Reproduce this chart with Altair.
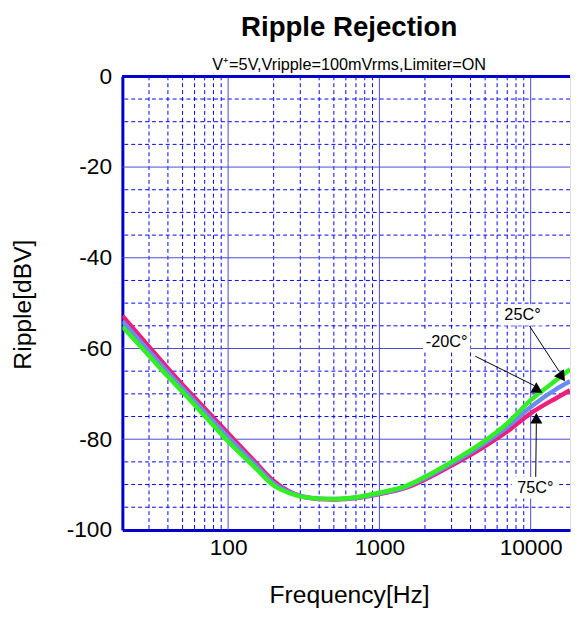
import altair as alt
import pandas as pd

# ---- data ----
freq = [20, 30, 40, 50, 70, 100, 150, 200, 250, 300, 400, 500, 700,
        1000, 1500, 2000, 3000, 5000, 7000, 10000, 15000, 18200]
ripple_m20 = [-55.2, -61.6, -66.2, -69.6, -74.9, -80.5, -86.2, -90.2, -91.8, -92.6, -93.1, -93.2, -92.8,
              -91.8, -90.3, -88.3, -85.0, -80.3, -76.5, -71.4, -66.8, -64.6]
ripple_25 = [-54.0, -60.6, -65.3, -68.8, -74.0, -79.5, -85.5, -89.7, -91.6, -92.5, -93.1, -93.2, -92.9,
             -92.0, -90.5, -88.6, -85.4, -80.8, -77.3, -72.9, -68.8, -67.2]
ripple_75 = [-52.8, -59.6, -64.4, -68.0, -73.2, -78.7, -84.9, -89.2, -91.4, -92.5, -93.2, -93.3, -93.0,
             -92.1, -90.7, -88.9, -85.8, -81.5, -78.3, -74.3, -70.8, -69.2]

series_names = ["75C", "25C", "-20C"]
series_colors = ["#ee1f7a", "#6a8cf0", "#33ee22"]

ann_text = ["25C°", "-20C°", "75C°"]
ann_freq = [8830, 2783, 10730]
ann_val = [-52.6, -58.5, -90.7]
arr_from_freq = [9810, 4300, 10800]
arr_from_val = [-55.0, -61.7, -88.3]
arr_to_freq = [15400, 10600, 10900]
arr_to_val = [-65.0, -68.2, -76.5]
head_freq = [16100, 10900, 10900]
head_val = [-66.3, -68.6, -75.4]
head_angle = [145, 0, 0]

x_label_ticks = [100, 1000, 10000]
x_minor = [30, 40, 50, 60, 70, 80, 90, 200, 300, 400, 500, 600, 700, 800, 900,
           2000, 3000, 4000, 5000, 6000, 7000, 8000, 9000]
y_label_ticks = [-100, -80, -60, -40, -20, 0]
y_major = [-80, -60, -40, -20]
y_minor = [-95, -90, -85, -75, -70, -65, -55, -50, -45, -35, -30, -25, -15, -10, -5]

# ---- tables ----
rows = []
for name, vals in zip(["-20C", "25C", "75C"], [ripple_m20, ripple_25, ripple_75]):
    for f, v in zip(freq, vals):
        rows.append({"f": f, "v": v, "series": name})
df = pd.DataFrame(rows)
ann = pd.DataFrame({"text": ann_text, "f": ann_freq, "v": ann_val,
                    "f1": arr_from_freq, "v1": arr_from_val,
                    "f2": arr_to_freq, "v2": arr_to_val,
                    "hf": head_freq, "hv": head_val, "ang": head_angle})

FONT = "Liberation Sans"
W, H = 454, 460
BLUE = "#0000cc"
MAJ = "#4848d8"
MIN = "#0000ff"

xscale = alt.Scale(type="log", domain=[20, 18200], nice=False)
yscale = alt.Scale(domain=[-100, 0], nice=False)

xaxis = alt.Axis(
    values=x_label_ticks, title="Frequency[Hz]", titleFont=FONT, titleFontSize=25,
    titleFontWeight="normal", titleColor="black", titleBaseline="alphabetic",
    titleY=74, titleX=230, labelExpr="'' + datum.value",
    labelFont=FONT, labelFontSize=23, labelColor="black", labelPadding=7,
    labelOverlap=False, labelFlush=False, ticks=False, grid=False,
    domainColor=BLUE, domainWidth=3,
)
yaxis = alt.Axis(
    values=y_label_ticks, title="Ripple[dBV]", titleFont=FONT, titleFontSize=25,
    titleFontWeight="normal", titleColor="black", titleAngle=-90,
    titleBaseline="alphabetic", titleAlign="center", titleX=-93, titleY=231,
    labelExpr="'' + datum.value",
    labelFont=FONT, labelFontSize=23, labelColor="black", labelPadding=11,
    labelOverlap=False, labelFlush=False, ticks=False, grid=False,
    domainColor=BLUE, domainWidth=3,
)


def XX(field):
    return alt.X(field, scale=xscale, axis=xaxis)


def YY(field):
    return alt.Y(field, scale=yscale, axis=yaxis)


gx_minor = alt.Chart(pd.DataFrame({"f": x_minor})).mark_rule(
    color=MIN, strokeWidth=1, strokeDash=[4, 3]).encode(x=XX("f:Q"))
gx_major = alt.Chart(pd.DataFrame({"f": x_label_ticks})).mark_rule(
    color=MAJ, strokeWidth=1).encode(x=XX("f:Q"))
gy_minor = alt.Chart(pd.DataFrame({"v": y_minor})).mark_rule(
    color=MIN, strokeWidth=1, strokeDash=[4, 3]).encode(y=YY("v:Q"))
gy_major = alt.Chart(pd.DataFrame({"v": y_major})).mark_rule(
    color=MAJ, strokeWidth=1).encode(y=YY("v:Q"))

base = alt.Chart(df)
line_layers = []
for name, col in zip(series_names, series_colors):
    line_layers.append(
        base.transform_filter(alt.datum.series == name)
        .mark_line(color=col, strokeWidth=4.5, clip=True, interpolate="monotone")
        .encode(x=XX("f:Q"), y=YY("v:Q"))
    )

abase = alt.Chart(ann)
arrows = abase.mark_rule(color="black", strokeWidth=1).encode(
    x=XX("f1:Q"), y=YY("v1:Q"), x2="f2:Q", y2="v2:Q")
heads = abase.mark_point(shape="triangle-up", filled=True, color="black", opacity=1,
                         size=150).encode(
    x=XX("hf:Q"), y=YY("hv:Q"), angle=alt.Angle("ang:Q", scale=None))
boxes = abase.mark_point(shape="M-1,-0.45L1,-0.45L1,0.45L-1,0.45Z", filled=True,
                         color="white", opacity=1, size=2304).encode(
    x=XX("f:Q"), y=YY("v:Q"))
labels = abase.mark_text(font=FONT, fontSize=16.5, color="black").encode(
    x=XX("f:Q"), y=YY("v:Q"), text="text:N")

top_border = alt.Chart(ann).mark_rule(color=BLUE, strokeWidth=3).encode(
    x=alt.value(0), x2=alt.value(W), y=alt.value(0))

chart = alt.layer(gx_minor, gy_minor, gx_major, gy_major, *line_layers,
                  arrows, heads, boxes, labels, top_border).properties(
    width=W, height=H,
    title=alt.TitleParams(
        "Ripple Rejection", subtitle="V\u207a=5V,Vripple=100mVrms,Limiter=ON",
        font=FONT, fontSize=28, fontWeight="bold", color="black",
        subtitleFont=FONT, subtitleFontSize=16.5, subtitleColor="black",
        anchor="middle", offset=-8, subtitlePadding=15, dx=3),
    autosize=alt.AutoSizeParams(type="none"),
    padding={"left": 116, "top": 65, "right": 1, "bottom": 84},
).configure_view(stroke=None).configure(background="white")

chart.save("out.html", embed_options={"renderer": "svg", "actions": False})
